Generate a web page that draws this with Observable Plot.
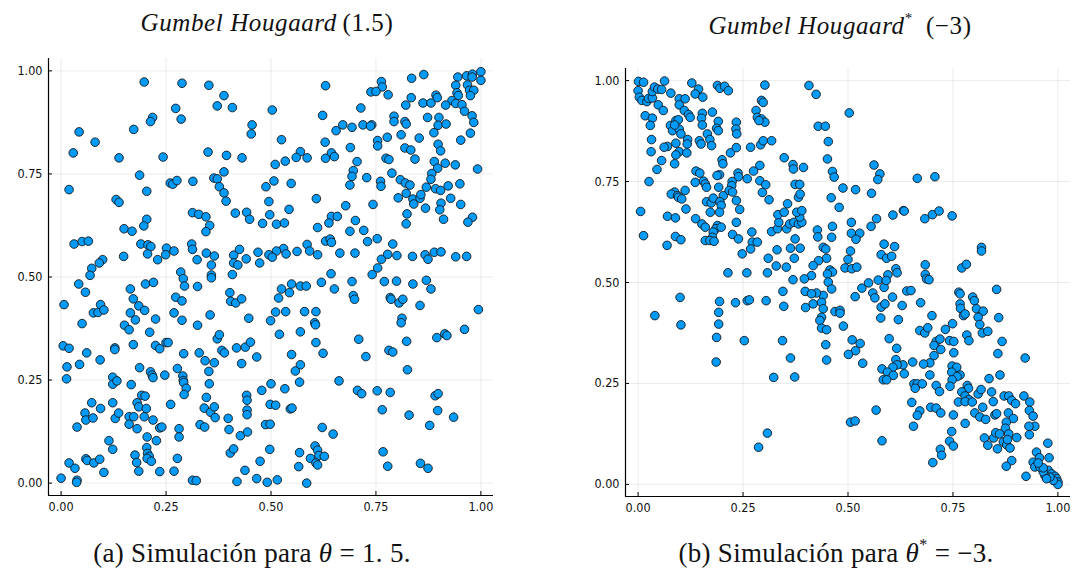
<!DOCTYPE html>
<html><head><meta charset="utf-8">
<script src="https://cdn.jsdelivr.net/npm/d3@7"></script>
<script src="https://cdn.jsdelivr.net/npm/@observablehq/plot@0.6"></script>
<style>
html,body{margin:0;padding:0;background:#fff;}
body{width:1075px;height:585px;position:relative;overflow:hidden;}
.panel{position:absolute;top:0;}
.txt{position:absolute;font-family:"Liberation Serif","DejaVu Serif",serif;white-space:nowrap;transform:translateX(-50%);color:#111;line-height:1;}
.title{font-size:25px;letter-spacing:0.6px;}
.cap{font-size:27px;letter-spacing:0.3px;}
i{font-style:italic;}
sup{font-size:0.6em;vertical-align:0;position:relative;top:-0.75em;}
</style></head><body>
<div id="pa" class="panel" style="left:0px"></div>
<div id="pb" class="panel" style="left:560px"></div>
<div class="txt title" style="left:267px;top:10px"><i>Gumbel Hougaard</i>&thinsp;(1.5)</div>
<div class="txt title" style="left:840px;top:13px"><i>Gumbel Hougaard</i><sup>*</sup>&ensp;(−3)</div>
<div class="txt cap" style="left:252px;top:540px">(a) Simulación para <i>θ</i> = 1. 5.</div>
<div class="txt cap" style="left:836px;top:540px">(b) Simulación para <i>θ</i><sup>*</sup> = −3.</div>
<script>
const tickValues = [0, 0.25, 0.5, 0.75, 1];
const tickLabels = ["0.00", "0.25", "0.50", "0.75", "1.00"];
const axisDomain = [-0.03, 1.03];

// Panel (a): Gumbel Hougaard (1.5) — [u, v]
const gumbelPoints = [
[0.198,0.973],[0.288,0.97],[0.352,0.965],[0.388,0.94],[0.372,0.915],[0.408,0.911],[0.273,0.909],[0.286,0.883],[0.218,0.887],[0.213,0.877],
[0.043,0.852],[0.173,0.858],[0.081,0.827],[0.455,0.869],[0.453,0.847],[0.029,0.801],[0.35,0.803],[0.394,0.795],[0.243,0.791],[0.138,0.789],
[0.431,0.789],[0.187,0.747],[0.388,0.755],[0.019,0.712],[0.204,0.708],[0.26,0.728],[0.266,0.725],[0.276,0.734],[0.314,0.732],[0.364,0.74],
[0.372,0.738],[0.377,0.719],[0.388,0.704],[0.393,0.684],[0.131,0.688],[0.138,0.681],[0.313,0.656],[0.328,0.652],[0.345,0.646],[0.354,0.625],
[0.345,0.61],[0.204,0.64],[0.197,0.624],[0.415,0.655],[0.442,0.657],[0.449,0.64],[0.15,0.617],[0.169,0.611],[0.031,0.58],[0.05,0.586],
[0.065,0.587],[0.19,0.58],[0.207,0.578],[0.214,0.574],[0.206,0.556],[0.149,0.55],[0.311,0.58],[0.313,0.567],[0.251,0.57],[0.269,0.563],
[0.249,0.554],[0.23,0.542],[0.324,0.542],[0.346,0.558],[0.365,0.551],[0.411,0.553],[0.425,0.567],[0.441,0.544],[0.411,0.534],[0.421,0.529],
[0.358,0.529],[0.099,0.542],[0.091,0.534],[0.073,0.521],
[0.864,0.991],[0.835,0.982],[0.763,0.974],[0.765,0.961],[0.738,0.949],[0.75,0.95],[0.779,0.942],[0.63,0.964],[0.945,0.985],[0.966,0.988],
[0.98,0.992],[1.0,0.998],[0.979,0.985],[1.0,0.977],[0.94,0.965],[0.968,0.966],[0.973,0.953],[0.983,0.953],[0.943,0.947],[0.946,0.94],
[0.931,0.928],[0.94,0.921],[0.955,0.918],[0.975,0.94],[0.893,0.941],[0.896,0.935],[0.834,0.935],[0.821,0.917],[0.862,0.922],[0.881,0.922],
[0.916,0.917],[0.503,0.905],[0.623,0.892],[0.714,0.91],[0.793,0.89],[0.793,0.877],[0.819,0.877],[0.822,0.871],[0.873,0.887],[0.9,0.887],
[0.961,0.902],[0.979,0.891],[0.983,0.875],[0.898,0.868],[0.917,0.871],[0.888,0.85],[0.975,0.849],[0.952,0.832],[0.671,0.869],[0.693,0.863],
[0.655,0.855],[0.719,0.869],[0.74,0.869],[0.737,0.866],[0.754,0.831],[0.754,0.818],[0.777,0.839],[0.81,0.845],[0.853,0.837],[0.525,0.833],
[0.629,0.827],[0.689,0.814],[0.819,0.813],[0.833,0.808],[0.898,0.822],[0.904,0.806],[0.57,0.804],[0.56,0.79],[0.586,0.789],[0.534,0.781],
[0.51,0.773],[0.63,0.788],[0.644,0.801],[0.651,0.792],[0.705,0.78],[0.774,0.788],[0.781,0.785],[0.843,0.786],[0.889,0.78],[0.897,0.764],
[0.915,0.776],[0.939,0.772],[0.992,0.762],[0.696,0.758],[0.693,0.744],[0.688,0.723],[0.728,0.741],[0.761,0.732],[0.762,0.72],[0.788,0.752],
[0.808,0.736],[0.82,0.728],[0.831,0.723],[0.883,0.751],[0.881,0.737],[0.87,0.718],[0.892,0.714],[0.904,0.71],[0.922,0.721],[0.95,0.726],
[0.488,0.719],[0.507,0.733],[0.548,0.727],[0.495,0.683],[0.543,0.664],[0.497,0.651],[0.608,0.69],[0.678,0.673],[0.743,0.676],[0.803,0.692],
[0.822,0.703],[0.838,0.689],[0.84,0.677],[0.855,0.691],[0.857,0.7],[0.868,0.667],[0.905,0.679],[0.902,0.663],[0.928,0.691],[0.952,0.676],
[0.911,0.64],[0.98,0.645],[0.969,0.633],[0.824,0.653],[0.822,0.629],[0.48,0.63],[0.513,0.628],[0.532,0.631],[0.644,0.647],[0.658,0.647],
[0.638,0.631],[0.611,0.62],[0.701,0.637],[0.688,0.611],[0.721,0.613],[0.73,0.586],[0.753,0.593],[0.79,0.58],[0.63,0.587],[0.641,0.592],
[0.644,0.584],[0.586,0.579],[0.592,0.563],[0.611,0.554],[0.562,0.562],[0.53,0.569],[0.536,0.556],[0.513,0.563],[0.495,0.554],[0.503,0.548],
[0.469,0.56],[0.473,0.534],[0.664,0.558],[0.7,0.558],[0.763,0.543],[0.778,0.555],[0.8,0.552],[0.837,0.55],[0.867,0.554],[0.874,0.543],
[0.889,0.56],[0.905,0.561],[0.94,0.549],[0.966,0.55],[0.754,0.522],
[0.007,0.433],[0.042,0.483],[0.058,0.463],[0.069,0.504],[0.05,0.387],[0.077,0.413],[0.088,0.414],[0.094,0.433],[0.102,0.42],[0.165,0.471],
[0.172,0.447],[0.185,0.43],[0.165,0.413],[0.177,0.396],[0.199,0.419],[0.201,0.483],[0.22,0.487],[0.151,0.383],[0.162,0.372],[0.211,0.366],
[0.225,0.398],[0.285,0.512],[0.291,0.496],[0.294,0.478],[0.273,0.451],[0.288,0.442],[0.269,0.413],[0.288,0.395],[0.325,0.477],[0.358,0.505],
[0.358,0.498],[0.408,0.506],[0.402,0.462],[0.404,0.441],[0.416,0.437],[0.43,0.447],[0.355,0.408],[0.325,0.383],[0.447,0.4],[0.005,0.333],
[0.019,0.327],[0.014,0.282],[0.013,0.253],[0.044,0.288],[0.061,0.316],[0.093,0.299],[0.128,0.328],[0.128,0.324],[0.172,0.336],[0.225,0.334],
[0.235,0.326],[0.25,0.341],[0.255,0.341],[0.292,0.314],[0.329,0.316],[0.343,0.297],[0.365,0.292],[0.372,0.35],[0.377,0.36],[0.352,0.271],
[0.353,0.241],[0.383,0.322],[0.389,0.316],[0.418,0.328],[0.439,0.33],[0.451,0.342],[0.43,0.29],[0.277,0.278],[0.29,0.26],[0.291,0.249],
[0.292,0.244],[0.298,0.23],[0.293,0.215],[0.247,0.262],[0.213,0.27],[0.217,0.262],[0.219,0.256],[0.187,0.28],[0.167,0.239],[0.123,0.257],
[0.123,0.24],[0.133,0.248],[0.123,0.195],[0.129,0.157],[0.137,0.17],[0.073,0.195],[0.057,0.17],[0.059,0.153],[0.076,0.158],[0.094,0.181],
[0.038,0.136],[0.192,0.213],[0.2,0.211],[0.181,0.195],[0.185,0.185],[0.162,0.161],[0.162,0.143],[0.173,0.161],[0.181,0.132],[0.198,0.161],
[0.203,0.181],[0.219,0.153],[0.205,0.112],[0.227,0.103],[0.235,0.134],[0.24,0.136],[0.261,0.191],[0.281,0.132],[0.281,0.112],[0.277,0.06],
[0.346,0.208],[0.341,0.182],[0.356,0.172],[0.365,0.185],[0.367,0.159],[0.331,0.142],[0.342,0.136],[0.398,0.157],[0.4,0.13],[0.442,0.213],
[0.443,0.201],[0.443,0.177],[0.443,0.166],[0.427,0.115],[0.444,0.124],[0.403,0.073],[0.411,0.083],[0.438,0.031],[0.419,0.004],[0.114,0.103],
[0.123,0.082],[0.176,0.068],[0.18,0.05],[0.185,0.029],[0.204,0.086],[0.206,0.072],[0.21,0.065],[0.205,0.06],[0.215,0.053],[0.235,0.028],
[0.269,0.029],[0.313,0.007],[0.322,0.006],[0.019,0.049],[0.033,0.036],[0.0,0.012],[0.038,0.007],[0.037,0.002],[0.059,0.059],[0.062,0.055],
[0.078,0.049],[0.092,0.058],[0.102,0.026],
[0.643,0.508],[0.741,0.506],[0.525,0.471],[0.549,0.483],[0.57,0.478],[0.584,0.478],[0.62,0.487],[0.651,0.471],[0.693,0.489],[0.544,0.462],
[0.518,0.449],[0.696,0.455],[0.699,0.446],[0.77,0.489],[0.799,0.49],[0.838,0.483],[0.87,0.492],[0.881,0.471],[0.784,0.45],[0.786,0.446],
[0.805,0.437],[0.814,0.446],[0.855,0.431],[0.994,0.421],[0.511,0.415],[0.535,0.416],[0.58,0.416],[0.607,0.416],[0.499,0.394],[0.604,0.389],
[0.606,0.384],[0.812,0.4],[0.81,0.389],[0.52,0.361],[0.57,0.367],[0.709,0.349],[0.607,0.341],[0.624,0.315],[0.823,0.344],[0.781,0.322],
[0.79,0.318],[0.726,0.307],[0.895,0.353],[0.914,0.362],[0.919,0.358],[0.961,0.373],[0.549,0.312],[0.825,0.275],[0.57,0.287],[0.558,0.272],
[0.466,0.306],[0.5,0.241],[0.478,0.225],[0.533,0.229],[0.568,0.245],[0.662,0.248],[0.706,0.225],[0.716,0.217],[0.753,0.224],[0.784,0.22],
[0.891,0.212],[0.898,0.217],[0.498,0.191],[0.511,0.189],[0.546,0.18],[0.55,0.182],[0.765,0.178],[0.829,0.165],[0.897,0.176],[0.935,0.16],
[0.487,0.142],[0.498,0.143],[0.878,0.14],[0.622,0.135],[0.648,0.119],[0.497,0.082],[0.605,0.09],[0.611,0.08],[0.568,0.074],[0.594,0.06],
[0.614,0.067],[0.627,0.065],[0.607,0.049],[0.611,0.044],[0.566,0.04],[0.767,0.076],[0.778,0.041],[0.856,0.048],[0.874,0.036],[0.474,0.053],
[0.466,0.011],[0.491,0.002],[0.515,0.008],[0.585,0.0]
];

// Panel (b): Gumbel Hougaard* (−3) — [u, v]
const gumbelStarPoints = [
[0.001,0.998],[0.013,0.996],[0.0,0.975],[0.003,0.959],[0.009,0.951],[0.021,0.948],[0.025,0.956],[0.034,0.957],[0.034,0.973],[0.039,0.984],
[0.047,0.979],[0.056,0.978],[0.063,0.999],[0.048,0.94],[0.06,0.926],[0.017,0.913],[0.034,0.907],[0.029,0.889],[0.078,0.969],[0.098,0.955],
[0.112,0.955],[0.098,0.94],[0.11,0.926],[0.12,0.916],[0.124,0.909],[0.128,0.994],[0.144,0.979],[0.136,0.967],[0.154,0.959],[0.153,0.919],
[0.151,0.907],[0.153,0.89],[0.177,0.922],[0.191,0.899],[0.187,0.882],[0.191,0.876],[0.09,0.901],[0.096,0.903],[0.077,0.889],[0.082,0.876],
[0.098,0.88],[0.102,0.868],[0.087,0.89],[0.189,0.988],[0.195,0.981],[0.206,0.986],[0.215,0.975],[0.234,0.897],[0.233,0.88],[0.235,0.868],
[0.165,0.868],[0.171,0.854],[0.175,0.839],[0.146,0.851],[0.15,0.843],[0.118,0.854],[0.117,0.843],[0.09,0.845],[0.07,0.837],[0.062,0.835],
[0.098,0.824],[0.09,0.816],[0.116,0.821],[0.032,0.854],[0.031,0.824],[0.056,0.802],[0.045,0.78],[0.087,0.794],[0.026,0.75],[0.2,0.804],
[0.202,0.794],[0.22,0.821],[0.234,0.834],[0.268,0.835],[0.292,0.841],[0.298,0.851],[0.302,0.989],[0.294,0.951],[0.298,0.946],[0.281,0.926],
[0.284,0.909],[0.294,0.905],[0.302,0.897],[0.288,0.901],[0.318,0.851],[0.348,0.809],[0.369,0.792],[0.37,0.781],[0.394,0.785],[0.407,0.988],
[0.275,0.776],[0.29,0.79],[0.29,0.752],[0.304,0.742],[0.296,0.723],[0.312,0.705],[0.238,0.771],[0.239,0.762],[0.224,0.75],[0.223,0.74],
[0.26,0.757],[0.194,0.767],[0.188,0.765],[0.192,0.736],[0.203,0.715],[0.217,0.728],[0.225,0.724],[0.234,0.703],[0.242,0.681],[0.138,0.776],
[0.147,0.771],[0.136,0.748],[0.156,0.751],[0.16,0.744],[0.163,0.736],[0.112,0.728],[0.087,0.724],[0.079,0.719],[0.094,0.715],[0.096,0.711],
[0.104,0.707],[0.114,0.682],[0.006,0.676],[0.013,0.616],[0.07,0.664],[0.089,0.66],[0.069,0.592],[0.089,0.614],[0.102,0.606],[0.137,0.658],
[0.152,0.645],[0.16,0.637],[0.172,0.674],[0.163,0.7],[0.174,0.697],[0.179,0.709],[0.195,0.7],[0.198,0.691],[0.194,0.674],[0.189,0.641],
[0.185,0.633],[0.179,0.625],[0.177,0.612],[0.16,0.604],[0.171,0.604],[0.181,0.602],[0.198,0.637],[0.234,0.649],[0.225,0.619],[0.239,0.608],
[0.271,0.625],[0.272,0.6],[0.284,0.6],[0.268,0.583],[0.248,0.571],[0.31,0.56],[0.318,0.626],[0.332,0.633],[0.335,0.649],[0.333,0.668],
[0.354,0.633],[0.356,0.695],[0.348,0.674],[0.361,0.645],[0.371,0.649],[0.382,0.645],[0.39,0.649],[0.385,0.662],[0.378,0.674],[0.39,0.678],
[0.382,0.711],[0.386,0.719],[0.374,0.743],[0.385,0.743],[0.374,0.608],[0.363,0.585],[0.386,0.585],[0.331,0.581],[0.372,0.56],[0.329,0.541],
[0.353,0.538],[0.308,0.524],[0.259,0.524],[0.214,0.524],
[0.424,0.966],[0.503,0.92],[0.429,0.887],[0.446,0.887],[0.453,0.849],[0.451,0.806],[0.463,0.775],[0.467,0.761],[0.562,0.791],[0.576,0.769],
[0.571,0.755],[0.665,0.758],[0.707,0.762],[0.488,0.734],[0.518,0.73],[0.556,0.721],[0.46,0.71],[0.479,0.686],[0.607,0.667],[0.632,0.678],
[0.634,0.677],[0.683,0.658],[0.701,0.668],[0.717,0.677],[0.748,0.665],[0.508,0.649],[0.568,0.658],[0.555,0.639],[0.427,0.63],[0.428,0.613],
[0.463,0.639],[0.461,0.612],[0.508,0.622],[0.528,0.622],[0.519,0.607],[0.441,0.587],[0.447,0.583],[0.449,0.56],[0.43,0.554],[0.417,0.542],
[0.506,0.578],[0.5,0.557],[0.493,0.536],[0.509,0.534],[0.521,0.538],[0.586,0.595],[0.611,0.589],[0.579,0.569],[0.592,0.56],[0.604,0.565],
[0.614,0.534],[0.617,0.524],[0.684,0.544],[0.771,0.536],[0.782,0.545],[0.818,0.587],[0.818,0.578],[0.457,0.531],[0.463,0.526],[0.451,0.521],
[0.413,0.517],[0.684,0.52],[0.595,0.519],
[0.04,0.418],[0.1,0.463],[0.102,0.395],[0.187,0.364],[0.186,0.303],[0.194,0.453],[0.192,0.426],[0.192,0.397],[0.232,0.45],[0.26,0.455],
[0.265,0.457],[0.253,0.356],[0.345,0.478],[0.347,0.441],[0.344,0.356],[0.363,0.313],[0.373,0.266],[0.323,0.265],[0.308,0.127],[0.287,0.092],
[0.305,0.455],[0.369,0.507],[0.396,0.509],[0.398,0.478],[0.399,0.438],
[0.453,0.501],[0.461,0.484],[0.441,0.468],[0.425,0.474],[0.413,0.472],[0.417,0.447],[0.437,0.451],[0.441,0.435],[0.437,0.414],[0.433,0.406],
[0.437,0.387],[0.449,0.383],[0.469,0.428],[0.481,0.431],[0.481,0.424],[0.489,0.392],[0.517,0.465],[0.533,0.486],[0.549,0.499],[0.572,0.506],
[0.586,0.488],[0.591,0.505],[0.559,0.474],[0.564,0.462],[0.579,0.439],[0.588,0.447],[0.606,0.464],[0.629,0.443],[0.64,0.479],[0.65,0.48],
[0.673,0.45],[0.687,0.509],[0.693,0.507],[0.764,0.476],[0.767,0.472],[0.767,0.447],[0.768,0.436],[0.775,0.418],[0.779,0.422],[0.797,0.464],
[0.801,0.455],[0.806,0.435],[0.822,0.429],[0.81,0.414],[0.814,0.396],[0.82,0.375],[0.833,0.379],[0.854,0.483],[0.859,0.413],[0.578,0.412],
[0.62,0.408],[0.7,0.418],[0.671,0.381],[0.683,0.375],[0.69,0.388],[0.732,0.384],[0.749,0.398],[0.783,0.37],[0.788,0.356],[0.867,0.354],
[0.857,0.324],[0.922,0.313],[0.51,0.358],[0.529,0.349],[0.518,0.331],[0.501,0.322],[0.447,0.346],[0.449,0.308],[0.535,0.3],[0.598,0.361],
[0.616,0.337],[0.71,0.354],[0.719,0.36],[0.705,0.344],[0.721,0.334],[0.742,0.356],[0.752,0.354],[0.752,0.326],[0.705,0.319],[0.695,0.301],
[0.68,0.298],[0.654,0.303],[0.631,0.296],[0.614,0.309],[0.617,0.296],[0.607,0.29],[0.581,0.286],[0.594,0.278],[0.608,0.27],[0.584,0.259],
[0.592,0.259],[0.634,0.274],[0.748,0.293],[0.759,0.29],[0.747,0.278],[0.767,0.271],[0.76,0.267],[0.748,0.259],[0.743,0.243],[0.695,0.271],
[0.657,0.249],[0.665,0.249],[0.677,0.249],[0.66,0.238],[0.71,0.245],[0.718,0.23],[0.784,0.245],[0.787,0.238],[0.771,0.229],[0.779,0.219],
[0.788,0.21],[0.763,0.204],[0.779,0.205],[0.796,0.204],[0.81,0.224],[0.817,0.235],[0.836,0.262],[0.862,0.271],[0.842,0.229],[0.846,0.205],
[0.872,0.219],[0.883,0.219],[0.89,0.208],[0.899,0.2],[0.919,0.219],[0.933,0.204],[0.932,0.183],[0.821,0.191],[0.802,0.177],[0.814,0.167],
[0.828,0.161],[0.85,0.172],[0.854,0.175],[0.882,0.177],[0.894,0.163],[0.877,0.154],[0.875,0.139],[0.883,0.125],[0.941,0.169],[0.945,0.144],
[0.931,0.144],[0.932,0.123],[0.902,0.116],[0.652,0.203],[0.671,0.182],[0.665,0.171],[0.656,0.144],[0.567,0.184],[0.506,0.154],[0.517,0.157],
[0.581,0.108],[0.697,0.191],[0.71,0.189],[0.721,0.177],[0.751,0.172],[0.779,0.151],[0.747,0.131],[0.742,0.107],[0.751,0.095],[0.72,0.087],
[0.723,0.072],[0.702,0.054],[0.825,0.115],[0.833,0.097],[0.847,0.115],[0.852,0.128],[0.861,0.125],[0.856,0.088],[0.87,0.105],[0.878,0.098],
[0.886,0.09],[0.88,0.111],[0.89,0.059],[0.877,0.045],[0.924,0.02],[0.949,0.08],[0.941,0.055],[0.945,0.043],
[0.976,0.102],[0.979,0.066],[0.977,0.035],[0.985,0.026],[0.993,0.02],[0.997,0.014],[1.0,0.006],[1.0,0.0],[0.989,0.01],[0.981,0.018],
[0.969,0.022],[0.965,0.031],[0.973,0.014],[0.957,0.043],[0.965,0.041],[0.956,0.066],[0.953,0.053]
];

const pointFill = "#009AF9";
const pointStroke = "#161616";

function panel(points, {width, height, marginLeft, marginRight, marginTop, marginBottom}) {
  const innerW = width - marginLeft - marginRight;
  const innerH = height - marginTop - marginBottom;
  const fmt = d => tickLabels[tickValues.indexOf(d)];
  return Plot.plot({
    width, height, marginLeft, marginRight, marginTop, marginBottom,
    style: {fontFamily: "'Liberation Sans Narrow','DejaVu Sans Condensed','Liberation Sans',sans-serif", fontSize: "12.5px", color: "#111", background: "transparent", overflow: "visible"},
    x: {domain: axisDomain, label: null},
    y: {domain: axisDomain, label: null},
    marks: [
      Plot.gridX(tickValues, {stroke: "#000", strokeOpacity: 0.08, strokeWidth: 1}),
      Plot.gridY(tickValues, {stroke: "#000", strokeOpacity: 0.08, strokeWidth: 1}),
      Plot.ruleX([axisDomain[0]], {stroke: "#000", strokeWidth: 1.2}),
      Plot.ruleY([axisDomain[0]], {stroke: "#000", strokeWidth: 1.2}),
      Plot.tickX(tickValues, {x: d => d, insetTop: innerH - 4, stroke: "#000", strokeWidth: 1}),
      Plot.tickY(tickValues, {y: d => d, insetRight: innerW - 4, stroke: "#000", strokeWidth: 1}),
      Plot.axisX(tickValues, {tickSize: 0, tickPadding: 7, tickFormat: fmt, fill: "#111"}),
      Plot.axisY(tickValues, {tickSize: 0, tickPadding: 6, tickFormat: fmt, fill: "#111"}),
      Plot.dot(points, {x: d => d[0], y: d => d[1], r: 4.3, fill: pointFill, stroke: pointStroke, strokeWidth: 0.9})
    ]
  });
}

document.getElementById("pa").append(panel(gumbelPoints, {width: 537, height: 520, marginLeft: 48, marginRight: 44, marginTop: 58, marginBottom: 25}));
document.getElementById("pb").append(panel(gumbelStarPoints, {width: 515, height: 520, marginLeft: 65, marginRight: 5, marginTop: 68, marginBottom: 24}));
</script>
</body></html>
